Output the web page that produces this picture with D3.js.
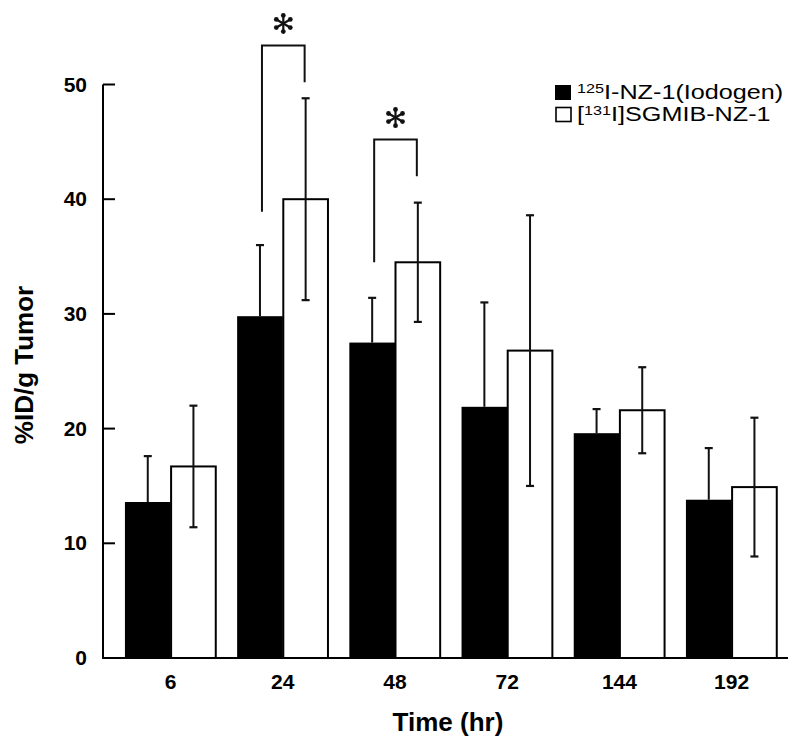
<!DOCTYPE html>
<html>
<head>
<meta charset="utf-8">
<script src="https://cdn.jsdelivr.net/npm/d3@7"></script>
<style>
  html, body { margin: 0; padding: 0; background: #fff; }
  svg { display: block; font-family: "Liberation Sans", Arial, Helvetica, sans-serif; }
</style>
</head>
<body>
<svg id="chart" width="800" height="749"></svg>
<script>
// ---- data ----
const times = ["6", "24", "48", "72", "144", "192"];
const iodogen    = [13.6, 29.8, 27.5, 21.9, 19.6, 13.8];
const iodogenErr = [4.0, 6.2, 3.9, 9.1, 2.1, 4.5];
const sgmib      = [16.7, 40.0, 34.5, 26.8, 21.6, 14.9];
const sgmibErr   = [5.3, 8.8, 5.2, 11.8, 3.75, 6.05];
const yTicks = [0, 10, 20, 30, 40, 50];
// significance brackets: left leg bottom, top, right leg bottom (in %ID/g)
const sigTimes  = ["24", "48"];
const sigLeft   = [38.9, 34.5];
const sigTop    = [53.4, 45.2];
const sigRight  = [50.2, 42.0];

// ---- layout ----
const svg = d3.select("#chart");
const axisX0 = 103, axisX1 = 788;
const y = d3.scaleLinear().domain([0, 50]).range([658, 84.5]);
const x = d3.scaleBand().domain(times).range([114.5, 787.7])
  .paddingInner(0.186).paddingOuter(0.093);
const xs = d3.scaleBand().domain([0, 1]).range([0, x.bandwidth()]);

const series = [
  { vals: iodogen, errs: iodogenErr, fill: "#000" },
  { vals: sgmib, errs: sgmibErr, fill: "#fff" }
];

// bars
series.forEach((s, si) => {
  svg.append("g").selectAll("rect").data(times).join("rect")
    .attr("x", d => x(d) + xs(si) + (si === 1 ? 0.5 : 0))
    .attr("y", (d, i) => y(s.vals[i]))
    .attr("width", xs.bandwidth() - (si === 1 ? 1 : 0))
    .attr("height", (d, i) => y(0) - y(s.vals[i]))
    .attr("fill", s.fill)
    .attr("stroke", "#000")
    .attr("stroke-width", si === 1 ? 2 : 0);
});

// error bars (lower half of black bars is hidden inside the black fill)
series.forEach((s, si) => {
  const g = svg.append("g").attr("stroke", "#111").attr("fill", "none");
  times.forEach((t, i) => {
    const cx = x(t) + xs(si) + xs.bandwidth() / 2;
    const hi = y(s.vals[i] + s.errs[i]);
    const lo = si === 0 ? y(s.vals[i]) : y(s.vals[i] - s.errs[i]);
    g.append("line").attr("x1", cx).attr("x2", cx).attr("y1", hi).attr("y2", lo)
      .attr("stroke-width", 2);
    g.append("line").attr("x1", cx - 4).attr("x2", cx + 4).attr("y1", hi).attr("y2", hi)
      .attr("stroke-width", 2.2);
    if (si === 1) {
      g.append("line").attr("x1", cx - 4).attr("x2", cx + 4).attr("y1", lo).attr("y2", lo)
        .attr("stroke-width", 2.2);
    }
  });
});

// axes
const axG = svg.append("g").attr("stroke", "#000");
axG.append("line").attr("x1", axisX0).attr("x2", axisX0).attr("y1", y(50)).attr("y2", y(0))
  .attr("stroke-width", 2);
axG.append("line").attr("x1", axisX0 - 1).attr("x2", axisX1).attr("y1", y(0)).attr("y2", y(0))
  .attr("stroke-width", 2);
axG.selectAll("line.tick").data(yTicks).join("line").attr("class", "tick")
  .attr("x1", axisX0).attr("x2", axisX0 + 12)
  .attr("y1", d => y(d)).attr("y2", d => y(d)).attr("stroke-width", 2);

svg.append("g").selectAll("text").data(yTicks).join("text")
  .attr("x", 87).attr("y", d => y(d) + 7)
  .attr("text-anchor", "end").attr("font-size", 21).attr("font-weight", "bold")
  .text(d => d);

svg.append("g").selectAll("text").data(times).join("text")
  .attr("x", d => x(d) + x.bandwidth() / 2).attr("y", 689)
  .attr("text-anchor", "middle").attr("font-size", 21).attr("font-weight", "bold")
  .text(d => d);

svg.append("text").attr("x", 448).attr("y", 731)
  .attr("text-anchor", "middle").attr("font-size", 26).attr("font-weight", "bold")
  .text("Time (hr)");

svg.append("text").attr("transform", "translate(33,365) rotate(-90)")
  .attr("text-anchor", "middle").attr("font-size", 26).attr("font-weight", "bold")
  .text("%ID/g Tumor");

// significance brackets
const sg = svg.append("g").attr("stroke", "#111").attr("fill", "none").attr("stroke-width", 2);
sigTimes.forEach((t, i) => {
  const xl = x(t) + xs(0) + xs.bandwidth() / 2 + 2;
  const xr = x(t) + xs(1) + xs.bandwidth() / 2 - 1;
  sg.append("path").attr("d",
    `M${xl},${y(sigLeft[i])}V${y(sigTop[i])}H${xr}V${y(sigRight[i])}`);
  // asterisk
  const ax = (xl + xr) / 2, ay = y(sigTop[i]) - 22, r = 9.5;
  const ag = svg.append("g").attr("fill", "#111").attr("stroke", "#111");
  [90, 30, -30].forEach(a => {
    const rad = a * Math.PI / 180;
    const dx = r * Math.cos(rad), dy = r * Math.sin(rad);
    ag.append("line").attr("x1", ax - dx).attr("y1", ay - dy)
      .attr("x2", ax + dx).attr("y2", ay + dy).attr("stroke-width", 2.2);
    ag.append("circle").attr("cx", ax - dx * 0.85).attr("cy", ay - dy * 0.85).attr("r", 2.4).attr("stroke", "none");
    ag.append("circle").attr("cx", ax + dx * 0.85).attr("cy", ay + dy * 0.85).attr("r", 2.4).attr("stroke", "none");
  });
});

// legend
const lg = svg.append("g");
lg.append("rect").attr("x", 555).attr("y", 85).attr("width", 16).attr("height", 15).attr("fill", "#000");
lg.append("rect").attr("x", 556).attr("y", 107.5).attr("width", 15).attr("height", 14)
  .attr("fill", "#fff").attr("stroke", "#000").attr("stroke-width", 1.6);
const lt = lg.append("g").attr("transform", "translate(577,0) scale(1.2,1)");
const t1 = lt.append("text").attr("x", 0).attr("y", 99.5).attr("font-size", 21);
t1.append("tspan").attr("font-size", 13.5).attr("dy", -6.5).text("125");
t1.append("tspan").attr("dy", 6.5).text("I-NZ-1(Iodogen)");
const t2 = lt.append("text").attr("x", 0).attr("y", 121.5).attr("font-size", 21);
t2.append("tspan").text("[");
t2.append("tspan").attr("font-size", 13.5).attr("dy", -6.5).text("131");
t2.append("tspan").attr("dy", 6.5).text("I]SGMIB-NZ-1");
</script>
</body>
</html>
